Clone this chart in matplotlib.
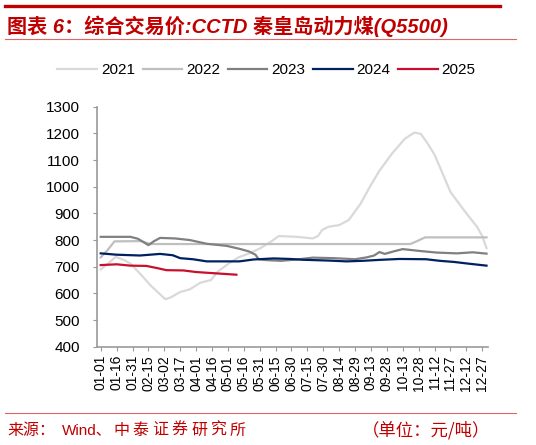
import matplotlib
matplotlib.use("Agg")
import matplotlib.pyplot as plt
from matplotlib.lines import Line2D

plt.rcParams['font.family'] = ['Liberation Sans', 'Noto Sans CJK SC', 'DejaVu Sans']

# day of year (0 = 01-01) and price
days_2021 = [0, 8, 14, 22, 28, 38, 47, 55, 61, 66, 75, 84, 94, 104, 110, 120, 130, 140, 150,
             160, 168, 185, 200, 205, 209, 215, 225, 234, 245, 254, 263, 275, 287, 296, 302,
             308, 315, 322, 330, 345, 355, 360, 364]
vals_2021 = [690, 715, 737, 725, 712, 670, 630, 600, 578, 585, 605, 615, 640, 650, 680, 710,
             735, 750, 768, 792, 815, 812, 806, 815, 838, 850, 856, 875, 935, 1000, 1060, 1125,
             1180, 1203, 1198, 1165, 1120, 1055, 980, 900, 850, 815, 770]

days_2022 = [0, 6, 13, 38, 47, 292, 298, 306, 364]
vals_2022 = [735, 760, 795, 796, 785, 785, 795, 810, 810]

days_2023 = [0, 28, 35, 45, 50, 56, 70, 84, 100, 119, 131, 140, 146, 149, 155, 170, 185, 200,
             220, 240, 251, 258, 263, 268, 277, 285, 301, 317, 336, 351, 364]
vals_2023 = [812, 812, 805, 781, 795, 808, 806, 800, 786, 778, 767, 757, 745, 728, 725, 722,
             727, 734, 732, 728, 735, 742, 755, 748, 758, 766, 759, 753, 750, 754, 749]

days_2024 = [0, 15, 37, 56, 68, 75, 87, 100, 131, 144, 163, 179, 191, 215, 232, 247, 265,
             282, 307, 320, 333, 348, 364]
vals_2024 = [750, 745, 742, 748, 743, 732, 728, 720, 720, 727, 731, 729, 726, 723, 720, 722,
             726, 729, 728, 722, 718, 711, 704]

days_2025 = [0, 15, 28, 43, 53, 62, 78, 90, 109, 128]
vals_2025 = [706, 709, 704, 703, 695, 687, 686, 680, 675, 670]

tick_days = list(range(0, 361, 15))
tick_labels = ['01-01', '01-16', '01-31', '02-15', '03-02', '03-17', '04-01', '04-16',
               '05-01', '05-16', '05-31', '06-15', '06-30', '07-15', '07-30', '08-14',
               '08-29', '09-13', '09-28', '10-13', '10-28', '11-12', '11-27', '12-12', '12-27']

red = '#C00000'

fig = plt.figure(figsize=(5.36, 4.45), dpi=100)
ax = fig.add_axes([0.1804, 0.2209, 0.730, 0.5393])

ax.plot(days_2021, vals_2021, color='#D9D9D9', lw=1.6, label='2021')
ax.plot(days_2022, vals_2022, color='#BFBFBF', lw=1.6, label='2022')
ax.plot(days_2023, vals_2023, color='#808080', lw=1.6, label='2023')
ax.plot(days_2024, vals_2024, color='#002060', lw=1.6, label='2024')
ax.plot(days_2025, vals_2025, color='#C8102E', lw=1.6, label='2025')

ax.set_xlim(-3.8, 365.4)
ax.set_ylim(400, 1300)
ax.set_yticks(range(400, 1301, 100))
ax.set_xticks(tick_days)
ax.set_xticklabels(tick_labels, rotation=90, fontsize=10)
ax.tick_params(axis='y', labelsize=11, length=3, pad=9, color='#999999')
ax.tick_params(axis='x', length=3, pad=3, color='#999999')
for s in ['top', 'right']:
    ax.spines[s].set_visible(False)
for s in ['left', 'bottom']:
    ax.spines[s].set_color('#999999')
    ax.spines[s].set_linewidth(1.2)

fig.legend(loc='center', bbox_to_anchor=(266.5 / 536, 1 - 70 / 445), ncol=5, frameon=False,
           fontsize=11, handlelength=2.6, handletextpad=0.25, columnspacing=0.5)

# header and footer
fig.add_artist(Line2D([5 / 536, 500 / 536], [1 - 6 / 445] * 2, transform=fig.transFigure,
                      color=red, lw=2.4))
fig.add_artist(Line2D([5 / 536, 516 / 536], [1 - 38.5 / 445] * 2, transform=fig.transFigure,
                      color='#E06666', lw=0.8))
fig.add_artist(Line2D([5 / 536, 516 / 536], [1 - 412.5 / 445] * 2, transform=fig.transFigure,
                      color='#E06666', lw=0.8))

fig.text(7 / 536, 1 - 26 / 445, '图表 6：综合交易价:CCTD 秦皇岛动力煤(Q5500)', color=red,
         fontsize=14.5, fontweight='bold', fontstyle='italic', va='center', ha='left')

foot_y = 1 - 430 / 445
fig.text(7 / 536, foot_y, '来源：', color=red, fontsize=11.5, va='center',
         family=['Noto Sans CJK SC'])
fig.text(62 / 536, foot_y, 'Wind、', color=red, fontsize=11, va='center')
for i, ch in enumerate('中泰证券研究所'):
    fig.text((113 + i * 19.5) / 536, foot_y, ch, color=red, fontsize=11.5, va='center',
             family=['Noto Sans CJK SC'])
fig.text(490 / 536, foot_y, '（单位：元/吨）', color=red, fontsize=12.5, va='center', ha='right',
         family=['Noto Sans CJK SC', 'DejaVu Sans'])

fig.savefig('out.png', dpi=100)
